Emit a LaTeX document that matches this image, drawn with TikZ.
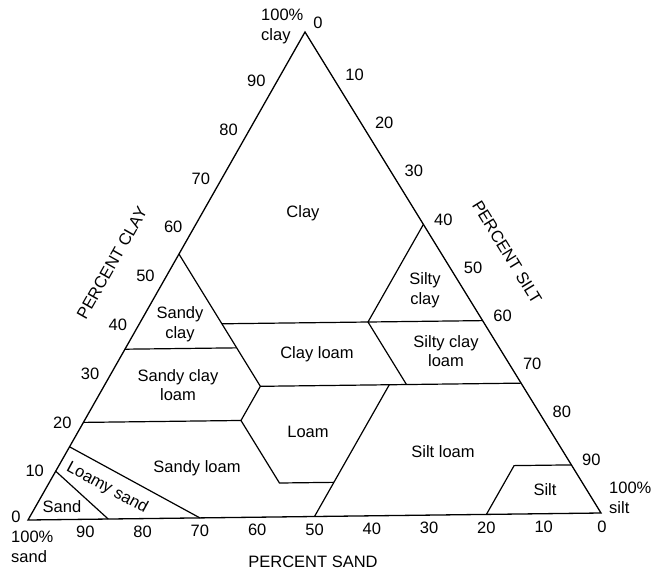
\documentclass[tikz,border=0pt]{standalone}
\usepackage{fontspec}
\setmainfont{Liberation Sans}
\tikzset{
    every node/.style={align=center,inner sep=0pt,font=\fontsize{16.5}{19.5}\selectfont},
    border/.style={line width=1.3pt,line join=miter},
    boundary/.style={line width=1.2pt},
    tick/.style={},
    corner/.style={anchor=north west,align=left},
}

\begin{document}
\begin{tikzpicture}[x=1pt,y=-1pt]
    \useasboundingbox (0,0) rectangle (651,571);

    % corners: 100% sand, 100% silt, 100% clay
    \coordinate (sa) at (28,520);
    \coordinate (si) at (601,513);
    \coordinate (cl) at (305,32);

    % class corners (sand, silt, clay as fractions)
    \coordinate (sand_top) at (barycentric cs:sa=.90,si=0,cl=.10);
    \coordinate (sand_bot) at (barycentric cs:sa=.86,si=.14,cl=0);
    \coordinate (lsand_top) at (barycentric cs:sa=.85,si=0,cl=.15);
    \coordinate (lsand_bot) at (barycentric cs:sa=.70,si=.30,cl=0);
    \coordinate (sloam_left) at (barycentric cs:sa=.80,si=0,cl=.20);
    \coordinate (sloam_right) at (barycentric cs:sa=.525,si=.275,cl=.20);
    \coordinate (loam_left) at (barycentric cs:sa=.525,si=.405,cl=.07);
    \coordinate (loam_right) at (barycentric cs:sa=.43,si=.50,cl=.07);
    \coordinate (siloam_bot) at (barycentric cs:sa=.50,si=.50,cl=0);
    \coordinate (siloam_top) at (barycentric cs:sa=.23,si=.50,cl=.27);
    \coordinate (scloam_right) at (barycentric cs:sa=.455,si=.275,cl=.27);
    \coordinate (sclay_top) at (barycentric cs:sa=.455,si=0,cl=.545);
    \coordinate (sclay_left) at (barycentric cs:sa=.65,si=0,cl=.35);
    \coordinate (sclay_right) at (barycentric cs:sa=.455,si=.195,cl=.35);
    \coordinate (cloam_left) at (barycentric cs:sa=.455,si=.145,cl=.40);
    \coordinate (cloam_right) at (barycentric cs:sa=.20,si=.40,cl=.40);
    \coordinate (cloam_bot) at (barycentric cs:sa=.20,si=.53,cl=.27);
    \coordinate (siclay_top) at (barycentric cs:sa=0,si=.40,cl=.60);
    \coordinate (siclay_right) at (barycentric cs:sa=0,si=.60,cl=.40);
    \coordinate (sicloam_right) at (barycentric cs:sa=0,si=.73,cl=.27);
    \coordinate (silt_bot) at (barycentric cs:sa=.20,si=.80,cl=0);
    \coordinate (silt_left) at (barycentric cs:sa=.10,si=.80,cl=.10);
    \coordinate (silt_right) at (barycentric cs:sa=0,si=.90,cl=.10);

    \draw[border] (sa) -- (si) -- (cl) -- cycle;

    \draw[boundary] (sand_top) -- (sand_bot);
    \draw[boundary] (lsand_top) -- (lsand_bot);
    \draw[boundary] (sloam_left) -- (sloam_right) -- (loam_left) -- (loam_right);
    \draw[boundary] (siloam_bot) -- (siloam_top);
    \draw[boundary] (sloam_right) -- (scloam_right) -- (sclay_top);
    \draw[boundary] (sclay_left) -- (sclay_right);
    \draw[boundary] (scloam_right) -- (sicloam_right);
    \draw[boundary] (cloam_left) -- (siclay_right);
    \draw[boundary] (cloam_bot) -- (cloam_right) -- (siclay_top);
    \draw[boundary] (silt_bot) -- (silt_left) -- (silt_right);

    % class names
    \node (clay) at (303,213) {Clay};
    \node (siclay) at (425,290) {Silty\\clay};
    \node (sicloam) at (446,351) {Silty clay\\loam};
    \node (cloam) at (317,354) {Clay loam};
    \node (sclay) at (180,324) {Sandy\\clay};
    \node (scloam) at (178,385) {Sandy clay\\loam};
    \node (loam) at (308,432) {Loam};
    \node (siloam) at (443,452) {Silt loam};
    \node (silt) at (545,490) {Silt};
    \node (sloam) at (197,468) {Sandy loam};
    \node[rotate=-28.6] (lsand) at (107,488) {Loamy sand};
    \node (sand) at (62,507) {Sand};

    % scales
    \foreach \c [evaluate=\c as \a using (100-\c)/100, evaluate=\c as \b using \c/100] in {10,20,...,90}
        \node[tick,xshift=-21pt] (lc\c) at (barycentric cs:sa=\a,si=0,cl=\b) {\c};
    \foreach \s [evaluate=\s as \a using (100-\s)/100, evaluate=\s as \b using \s/100] in {10,20,...,90}
        \node[tick,xshift=20pt,yshift=5pt] (rs\s) at (barycentric cs:sa=0,si=\b,cl=\a) {\s};
    \foreach \s [evaluate=\s as \a using (100-\s)/100, evaluate=\s as \b using \s/100] in {10,20,...,90}
        \node[tick,yshift=-13pt] (bs\s) at (barycentric cs:sa=\b,si=\a,cl=0) {\s};
    \node[tick] (lc0) at (16,517) {0};
    \node[tick] (rs0) at (318,23) {0};
    \node[tick] (bs0) at (602,527) {0};

    \node[corner] (pclay) at (261,9) {100\%\\clay};
    \node[corner] (psand) at (11,531) {100\%\\sand};
    \node[corner] (psilt) at (609,482) {100\%\\silt};

    \node[rotate=60.4] (tclay) at (112,263) {PERCENT CLAY};
    \node[rotate=-58.4] (tsilt) at (507,252) {PERCENT SILT};
    \node (tsand) at (313,562) {PERCENT SAND};
\end{tikzpicture}
\end{document}
